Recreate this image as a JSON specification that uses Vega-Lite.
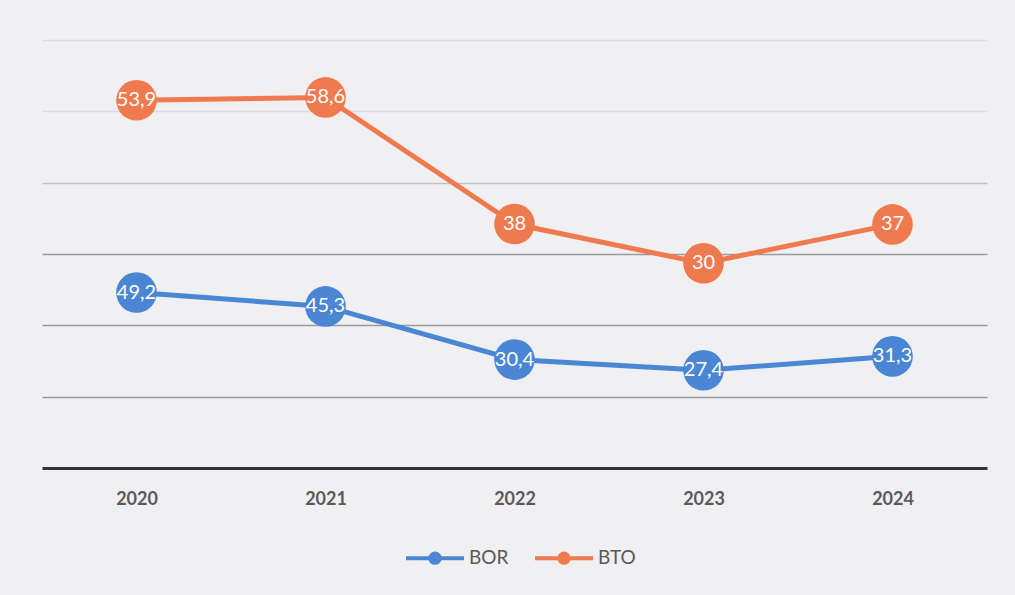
{
  "$schema": "https://vega.github.io/schema/vega-lite/v6.json",
  "autosize": {"type": "none"},
  "width": 945,
  "height": 428,
  "padding": {"left": 42, "top": 40, "right": 28, "bottom": 127},
  "background": "#f0eff2",
  "config": {
    "view": {"stroke": null},
    "locale": {"number": {"decimal": ",", "thousands": ".", "grouping": [3], "currency": ["", " €"]}}
  },
  "data": {
    "values": [
      {"year": "2020", "series": "BOR", "value": 49.2},
      {"year": "2021", "series": "BOR", "value": 45.3},
      {"year": "2022", "series": "BOR", "value": 30.4},
      {"year": "2023", "series": "BOR", "value": 27.4},
      {"year": "2024", "series": "BOR", "value": 31.3},
      {"year": "2020", "series": "BTO", "value": 53.9},
      {"year": "2021", "series": "BTO", "value": 58.6},
      {"year": "2022", "series": "BTO", "value": 38},
      {"year": "2023", "series": "BTO", "value": 30},
      {"year": "2024", "series": "BTO", "value": 37}
    ]
  },
  "transform": [
    {
      "stack": "value",
      "groupby": ["year"],
      "sort": [{"field": "series", "order": "ascending"}],
      "as": ["stack_lo", "stack_hi"]
    }
  ],
  "encoding": {
    "x": {
      "field": "year", "type": "ordinal",
      "axis": {
        "title": null, "labelAngle": 0, "ticks": false,
        "domainColor": "#333333", "domainWidth": 3,
        "labelFont": "Lato", "labelFontSize": 18, "labelFontWeight": "bold",
        "labelColor": "#5a5a5a", "labelPadding": 22
      }
    },
    "y": {
      "field": "stack_hi", "type": "quantitative",
      "scale": {"domain": [0, 120], "nice": false},
      "axis": {
        "title": null, "labels": false, "ticks": false, "domain": false,
        "values": [20, 40, 60, 80, 100, 120],
        "gridColor": {
          "condition": [
            {"test": "datum.value >= 100", "value": "#dcdcdc"},
            {"test": "datum.value >= 80", "value": "#c2c2c2"}
          ],
          "value": "#9a9a9a"
        },
        "gridWidth": 1.5
      }
    }
  },
  "layer": [
    {
      "mark": {"type": "line", "strokeWidth": 5},
      "encoding": {
        "color": {
          "field": "series", "type": "nominal",
          "scale": {"domain": ["BOR", "BTO"], "range": ["#4a86d3", "#f07a4f"]},
          "legend": {
            "title": null, "orient": "none", "direction": "horizontal",
            "legendX": 362, "legendY": 487, "padding": 0,
            "symbolType": "M-1,0L1,0M0.16,0A0.16,0.16,0,1,1,-0.16,0A0.16,0.16,0,1,1,0.16,0Z",
            "symbolSize": 3364, "symbolStrokeWidth": 4,
            "labelFont": "Lato", "labelFontSize": 19, "labelColor": "#595959",
            "labelOffset": 3, "columnPadding": 18,
            "encode": {
              "symbols": {
                "update": {
                  "fill": {"scale": "color", "field": "value"},
                  "stroke": {"scale": "color", "field": "value"}
                }
              }
            }
          }
        }
      }
    },
    {
      "mark": {"type": "circle", "size": 1650, "opacity": 1},
      "encoding": {
        "color": {"field": "series", "type": "nominal", "legend": null}
      }
    },
    {
      "mark": {"type": "text", "color": "white", "font": "Lato", "fontSize": 20, "baseline": "middle", "align": "center"},
      "encoding": {
        "text": {"field": "value", "type": "quantitative", "format": "~g"}
      }
    }
  ]
}
